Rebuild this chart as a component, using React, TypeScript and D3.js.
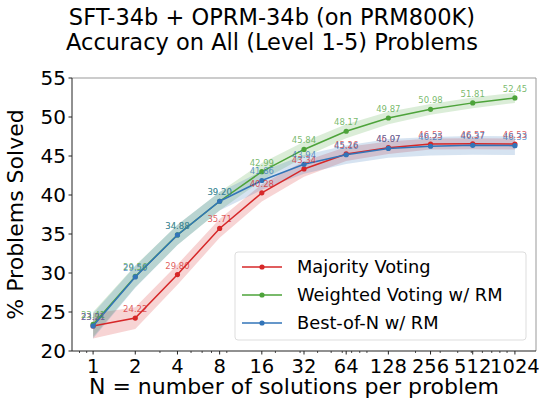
import React from "react";
import * as d3 from "d3";

const nValues = [1, 2, 4, 8, 16, 32, 64, 128, 256, 512, 1024];
const majority = [23.21, 24.22, 29.8, 35.71, 40.28, 43.34, 45.26, 46.07, 46.53, 46.57, 46.53];
const weighted = [23.41, 29.56, 34.88, 39.2, 42.99, 45.84, 48.17, 49.87, 50.98, 51.81, 52.45];
const bestOfN = [23.21, 29.5, 34.88, 39.2, 41.86, 43.94, 45.16, 45.97, 46.25, 46.37, 46.33];
const majorityStd = [1.6, 1.4, 1.3, 1.2, 1.1, 1.0, 0.9, 0.8, 0.7, 0.7, 0.7];
const weightedStd = [1.6, 1.4, 1.3, 1.2, 1.1, 1.0, 0.9, 0.8, 0.7, 0.7, 0.65];
const bestOfNStd = [1.6, 1.4, 1.3, 1.2, 1.2, 1.2, 1.2, 1.2, 1.2, 1.2, 1.2];
const yTicks = [20, 25, 30, 35, 40, 45, 50, 55];

const series = [
  { name: "Majority Voting", color: "#d62728", values: majority, std: majorityStd },
  { name: "Weighted Voting w/ RM", color: "#4da33a", values: weighted, std: weightedStd },
  { name: "Best-of-N w/ RM", color: "#3274b8", values: bestOfN, std: bestOfNStd },
];

const W = 539;
const H = 400;
const margin = { left: 72, right: 3, top: 78, bottom: 49 };
const font = "DejaVu Sans, sans-serif";

export default function App() {
  const x = d3.scaleLog().base(2).domain([Math.pow(2, -0.5), Math.pow(2, 10.5)]).range([margin.left, W - margin.right]);
  const y = d3.scaleLinear().domain([20, 55]).range([H - margin.bottom, margin.top]);

  // minor ticks like matplotlib's base-10 log locator
  const minor: number[] = [];
  [0.1, 1, 10, 100].forEach(dec => {
    for (let s = 2; s <= 9; s++) {
      const v = s * dec;
      if (v >= x.domain()[0] && v <= x.domain()[1] && !nValues.includes(v)) minor.push(v);
    }
  });

  const line = d3.line<number>().x((_, i) => x(nValues[i])).y(d => y(d));

  return (
    <svg width={W} height={H} style={{ position: "absolute", left: 0, top: 0 }} fontFamily={font}>
      <rect width={W} height={H} fill="#fff" />
      <text x={272} y={25} textAnchor="middle" fontSize={22.5}>SFT-34b + OPRM-34b (on PRM800K)</text>
      <text x={272} y={50} textAnchor="middle" fontSize={22.5}>Accuracy on All (Level 1-5) Problems</text>

      {series.map(s => {
        const area = d3.area<number>()
          .x((_, i) => x(nValues[i]))
          .y0((d, i) => y(d - s.std[i]))
          .y1((d, i) => y(d + s.std[i]));
        return <path key={s.name + "band"} d={area(s.values) || ""} fill={s.color} fillOpacity={0.2} />;
      })}
      {series.map(s => (
        <g key={s.name}>
          <path d={line(s.values) || ""} fill="none" stroke={s.color} strokeWidth={1.5} />
          {s.values.map((v, i) => (
            <circle key={i} cx={x(nValues[i])} cy={y(v)} r={2.6} fill={s.color} />
          ))}
        </g>
      ))}
      {series.map(s => (
        <g key={s.name + "labels"}>
          {s.values.map((v, i) => (
            <text key={i} x={x(nValues[i])} y={y(v) - 6} textAnchor="middle" fontSize={8.5} fill={s.color} fillOpacity={0.75}>
              {v.toFixed(2)}
            </text>
          ))}
        </g>
      ))}

      {/* spines */}
      <line x1={margin.left} x2={W - margin.right} y1={margin.top} y2={margin.top} stroke="#999" strokeWidth={1} />
      <line x1={W - margin.right} x2={W - margin.right} y1={margin.top} y2={H - margin.bottom} stroke="#999" strokeWidth={1} />
      <line x1={margin.left} x2={margin.left} y1={margin.top} y2={H - margin.bottom} stroke="#222" strokeWidth={1} />
      <line x1={margin.left} x2={W - margin.right} y1={H - margin.bottom} y2={H - margin.bottom} stroke="#222" strokeWidth={1} />

      {yTicks.map(t => (
        <g key={t}>
          <line x1={margin.left - 3.5} x2={margin.left} y1={y(t)} y2={y(t)} stroke="#222" />
          <text x={margin.left - 6} y={y(t)} dy="0.35em" textAnchor="end" fontSize={20}>{t}</text>
        </g>
      ))}
      {nValues.map(n => (
        <g key={n}>
          <line x1={x(n)} x2={x(n)} y1={H - margin.bottom} y2={H - margin.bottom + 3.5} stroke="#222" />
          <text x={x(n)} y={H - margin.bottom + 22} textAnchor="middle" fontSize={19.5}>{n}</text>
        </g>
      ))}
      {minor.map(n => (
        <line key={n} x1={x(n)} x2={x(n)} y1={H - margin.bottom} y2={H - margin.bottom + 2} stroke="#222" strokeWidth={0.8} />
      ))}

      <text x={294} y={394} textAnchor="middle" fontSize={22}>N = number of solutions per problem</text>
      <text transform={`translate(23, ${(margin.top + H - margin.bottom) / 2}) rotate(-90)`} textAnchor="middle" fontSize={22}>% Problems Solved</text>

      <g>
        <rect x={235} y={252} width={291} height={88} rx={3} fill="#fff" fillOpacity={0.85} stroke="#ddd" />
        {series.map((s, i) => {
          const ly = 267 + i * 28;
          return (
            <g key={s.name + "legend"}>
              <line x1={242} x2={282} y1={ly} y2={ly} stroke={s.color} strokeWidth={1.5} />
              <circle cx={262} cy={ly} r={2.6} fill={s.color} />
              <text x={297} y={ly} dy="0.35em" fontSize={17.8}>{s.name}</text>
            </g>
          );
        })}
      </g>
    </svg>
  );
}
